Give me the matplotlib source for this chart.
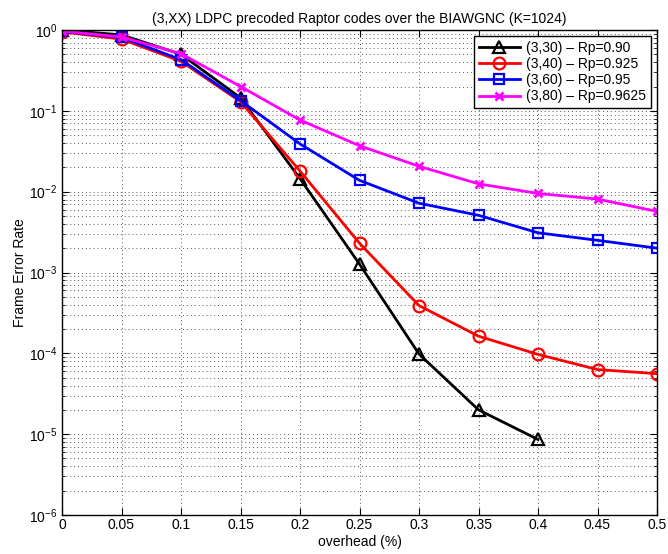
import matplotlib
matplotlib.use("Agg")
import matplotlib.pyplot as plt
from matplotlib.ticker import LogLocator, NullFormatter

plt.rcParams['font.family'] = ['Liberation Sans', 'DejaVu Sans']
plt.rcParams['mathtext.fontset'] = 'custom'
plt.rcParams['mathtext.rm'] = 'Liberation Sans'

overhead = [0, 0.05, 0.1, 0.15, 0.2, 0.25, 0.3, 0.35, 0.4, 0.45, 0.5]

fer_330 = [1.0, 0.87, 0.50, 0.145, 0.0145, 0.00127, 9.8e-5, 2.0e-5, 8.6e-6]
fer_340 = [0.95, 0.77, 0.41, 0.13, 0.018, 0.0023, 0.00039, 0.000163, 9.7e-5, 6.3e-5, 5.6e-5]
fer_360 = [0.96, 0.81, 0.43, 0.134, 0.039, 0.0138, 0.0072, 0.0051, 0.0031, 0.0025, 0.002]
fer_380 = [0.97, 0.82, 0.51, 0.20, 0.077, 0.037, 0.0206, 0.0125, 0.0095, 0.0081, 0.0057]

labels = ['(3,30) \u2013 Rp=0.90', '(3,40) \u2013 Rp=0.925',
          '(3,60) \u2013 Rp=0.95', '(3,80) \u2013 Rp=0.9625']

fig = plt.figure(figsize=(6.68, 5.54), dpi=100)
ax = fig.add_axes([62/668, 1-515/554, (657-62)/668, (515-30)/554])

lw = 2.0
ax.semilogy(overhead[:len(fer_330)], fer_330, color='black', marker='^', markersize=8.5,
            markerfacecolor='none', markeredgewidth=1.6, linewidth=lw, label=labels[0])
ax.semilogy(overhead, fer_340, color='red', marker='o', markersize=8.5,
            markerfacecolor='none', markeredgewidth=1.6, linewidth=lw, label=labels[1])
ax.semilogy(overhead, fer_360, color='blue', marker='s', markersize=6.5,
            markerfacecolor='none', markeredgewidth=1.6, linewidth=lw, label=labels[2])
ax.semilogy(overhead, fer_380, color='magenta', marker='x', markersize=6,
            markeredgewidth=2, linewidth=lw, label=labels[3])

ax.set_xlim(0, 0.5)
ax.set_ylim(1e-6, 1)
ax.set_xticks(overhead)
ax.set_xticklabels(['0', '0.05', '0.1', '0.15', '0.2', '0.25', '0.3', '0.35', '0.4', '0.45', '0.5'])
ax.yaxis.set_major_locator(LogLocator(base=10, numticks=10))
ax.yaxis.set_minor_locator(LogLocator(base=10, subs=range(2, 10), numticks=100))
ax.yaxis.set_minor_formatter(NullFormatter())

ax.tick_params(which='both', direction='in', top=True, right=True, labelsize=10)
ax.tick_params(which='major', length=5)
ax.tick_params(which='minor', length=2.5)
ax.tick_params(axis='x', pad=2)
ax.grid(True, which='major', linestyle=(0, (1, 3)), color='0.35', linewidth=0.7)
ax.grid(True, which='minor', axis='y', linestyle=(0, (1, 3)), color='0.35', linewidth=0.7)
for s in ax.spines.values():
    s.set_linewidth(1.0)

ax.set_xlabel('overhead (%)', fontsize=10)
ax.xaxis.set_label_coords(0.5, -(542 - 515) / 485, transform=ax.transAxes)
ax.xaxis.label.set_va('center')
ax.set_ylabel('Frame Error Rate', fontsize=10)
ax.yaxis.set_label_coords((20 - 62) / 595, 0.5, transform=ax.transAxes)
ax.yaxis.label.set_va('center')
ax.set_title('(3,XX) LDPC precoded Raptor codes over the BIAWGNC (K=1024)', fontsize=10, pad=5)

leg = ax.legend(loc='upper right', fontsize=10, fancybox=False, framealpha=1,
                edgecolor='black', handlelength=3.0, borderaxespad=0.45,
                labelspacing=0.15, handletextpad=0.4, borderpad=0.35)
leg.get_frame().set_linewidth(1.0)

fig.savefig('out.png', dpi=100)
